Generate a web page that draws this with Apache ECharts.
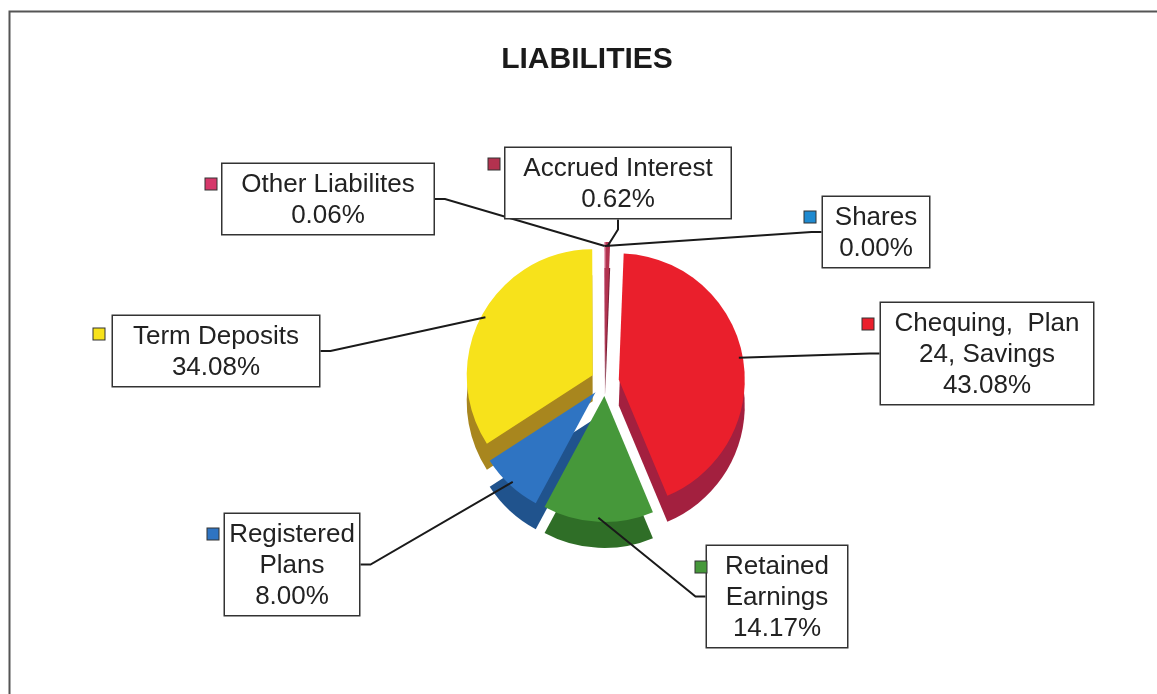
<!DOCTYPE html>
<html>
<head>
<meta charset="utf-8">
<script src="https://cdn.jsdelivr.net/npm/echarts@6/dist/echarts.min.js"></script>
<style>
    html, body { margin: 0; padding: 0; background: #fff; }
    #liabChart { width: 1157px; height: 694px; }
</style>
</head>
<body>
<div id="liabChart"></div>
<script>
// slices, clockwise from 12 o'clock
var sliceNames = ['Accrued Interest', 'Chequing, Plan 24, Savings', 'Retained Earnings', 'Registered Plans', 'Term Deposits', 'Other Liabilites', 'Shares'];
var labelNames = ['Accrued Interest', 'Chequing,  Plan\n24, Savings', 'Retained\nEarnings', 'Registered\nPlans', 'Term Deposits', 'Other Liabilites', 'Shares'];
var sliceValues = [0.62, 43.08, 14.17, 8.00, 34.08, 0.06, 0.00];
var topColors = ['#b3324f', '#ea1f2c', '#46983a', '#2f74c2', '#f7e21b', '#d6386a', '#1f8ad0'];
var sideColors = ['#7c1f36', '#a3203f', '#2f6e27', '#20538d', '#a8861e', '#9a2448', '#155f92'];

// where each label box sits (box centre x, box top y, inner width, side padding) and its marker square
var boxPos = [[618, 148, 207, 9], [987, 303, 194, 9], [777, 546, 122, 9], [292, 514, 126, 4], [216, 316, 188, 9], [328, 164, 193, 9], [876, 197, 88, 9]];
var markPos = [[494, 164], [868, 324], [701, 567], [213, 534], [99, 334], [211, 184], [810, 217]];

var pieCenter = ['605', '382'];
var pieRadius = 126;
var explode = 14;
var depth = 26;

var chart = echarts.init(document.getElementById('liabChart'));

function _map(arr, fn) {
    var out = [];
    for (var i = 0; i < arr.length; i++) out.push(fn(arr[i], i));
    return out;
}

function buildData(colors, selected) {
    return _map(sliceNames, function (name, i) {
        return {
            name: name,
            value: sliceValues[i],
            selected: selected,
            itemStyle: { color: colors ? colors[i] : 'rgba(0,0,0,0)' }
        };
    });
}

var baseSeries = {
    type: 'pie',
    startAngle: 90,
    clockwise: true,
    animation: false,
    silent: true,
    avoidLabelOverlap: false
};

var option = {
    backgroundColor: '#fff',
    title: {
        text: 'LIABILITIES',
        left: 582,
        top: 40,
        textAlign: 'center',
        textStyle: { fontFamily: 'Liberation Sans', fontSize: 30, fontWeight: 'bold', color: '#1a1a1a' }
    },
    graphic: [{
        type: 'rect',
        left: 7,
        top: 9,
        shape: { width: 1200, height: 800 },
        style: { fill: 'none', stroke: '#555', lineWidth: 2 },
        z: 100
    }],
    series: [
        // side wall of the 3d pie
        Object.assign({}, baseSeries, {
            center: [pieCenter[0], String(+pieCenter[1] + depth)],
            radius: pieRadius,
            selectedMode: 'multiple',
            selectedOffset: explode,
            z: 1,
            label: { show: false },
            labelLine: { show: false },
            data: buildData(sideColors, true)
        }),
        // top face
        Object.assign({}, baseSeries, {
            center: pieCenter,
            radius: pieRadius,
            selectedMode: 'multiple',
            selectedOffset: explode,
            z: 2,
            label: { show: false },
            labelLine: { show: false },
            data: buildData(topColors, true)
        }),
        // label boxes + leader lines (invisible ring at the exploded edge)
        Object.assign({}, baseSeries, {
            center: pieCenter,
            radius: pieRadius + explode - 4,
            z: 3,
            label: {
                show: true,
                opacity: 1,
                formatter: function (p) {
                    return labelNames[p.dataIndex] + '\n' + sliceValues[p.dataIndex].toFixed(2) + '%';
                },
                fontFamily: 'Liberation Sans',
                fontSize: 26,
                lineHeight: 31,
                color: '#222',
                align: 'center',
                overflow: 'none',
                backgroundColor: '#fff',
                borderColor: '#333',
                borderWidth: 1.5
            },
            labelLine: {
                show: true,
                showAbove: true,
                length: 15,
                length2: 10,
                lineStyle: { color: '#1a1a1a', width: 2, opacity: 1 }
            },
            labelLayout: function (p) {
                var b = boxPos[p.dataIndex];
                return { x: b[0], y: b[1], align: 'center', verticalAlign: 'top', hideOverlap: false };
            },
            data: _map(sliceNames, function (name, i) {
                return {
                    name: name,
                    value: sliceValues[i],
                    itemStyle: { color: 'rgba(0,0,0,0)' },
                    label: { width: boxPos[i][2], padding: [5, boxPos[i][3], 3, boxPos[i][3]] }
                };
            })
        }),
        // marker squares beside the boxes
        Object.assign({}, baseSeries, {
            center: pieCenter,
            radius: pieRadius,
            z: 4,
            label: {
                show: true,
                opacity: 1,
                formatter: '{m|}',
                rich: {
                    m: { width: 11, height: 11, borderColor: '#333', borderWidth: 1 }
                }
            },
            labelLine: { show: false },
            labelLayout: function (p) {
                var m = markPos[p.dataIndex];
                return { x: m[0], y: m[1], align: 'center', verticalAlign: 'middle', hideOverlap: false };
            },
            data: _map(sliceNames, function (name, i) {
                return {
                    name: name,
                    value: sliceValues[i],
                    itemStyle: { color: 'rgba(0,0,0,0)' },
                    label: { rich: { m: { backgroundColor: topColors[i] } } }
                };
            })
        })
    ]
};

chart.setOption(option);
window.addEventListener('resize', chart.resize);
</script>
</body>
</html>
